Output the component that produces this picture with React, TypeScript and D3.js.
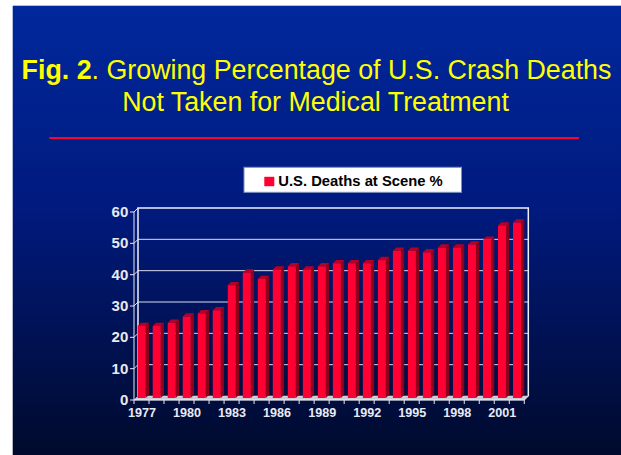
import React from "react";
import * as d3 from "d3";

const years: number[] = d3.range(1977, 2003);
const values: number[] = [23, 23, 24, 26, 27, 28, 36, 40, 38, 41, 42, 41, 42, 43, 43, 43, 44, 47, 47, 46.5, 48, 48, 49, 50.5, 55, 56];
const yTicks: number[] = [0, 10, 20, 30, 40, 50, 60];
const xLabelYears: number[] = [1977, 1980, 1983, 1986, 1989, 1992, 1995, 1998, 2001];
const titleBold = "Fig. 2";
const titleRest1 = ". Growing Percentage of U.S. Crash Deaths";
const titleLine2 = "Not Taken for Medical Treatment";
const legendLabel = "U.S. Deaths at Scene %";

export default function App() {
  const W = 621, H = 455;
  const DX = 4, DY = 4; // wall depth
  const x = d3.scaleBand<number>().domain(years).range([134, 524.3]).paddingInner(0).paddingOuter(0);
  const y = d3.scaleLinear().domain([0, 60]).range([400, 212]);
  const bw = x.bandwidth();
  const font = "'Liberation Sans', Arial, Helvetica, sans-serif";
  const x0 = 134, x1 = 524.3;
  const y0 = y(0), yTop = y(60);
  const barW = 8, bd = 3.3, bOff = 2;

  return (
    <svg width={W} height={H} style={{ position: "absolute", left: 0, top: 0 }} fontFamily={font}>
      <defs>
        <linearGradient id="bg" x1="0" y1="0" x2="0" y2="1">
          <stop offset="0" stopColor="#00289C" />
          <stop offset="0.45" stopColor="#001A7E" />
          <stop offset="1" stopColor="#000A2C" />
        </linearGradient>
      </defs>
      <rect x={0} y={0} width={W} height={H} fill="#ffffff" />
      <rect x={12.7} y={5.7} width={W - 12.7} height={H - 5.7} fill="url(#bg)" />

      {/* Title */}
      <text x={316.5} y={79} textAnchor="middle" fill="#FFFF00" fontSize={26.8}>
        <tspan fontWeight="bold">{titleBold}</tspan>
        <tspan>{titleRest1}</tspan>
      </text>
      <text x={315.5} y={110.7} textAnchor="middle" fill="#FFFF00" fontSize={26.8}>
        {titleLine2}
      </text>
      <line x1={49.3} x2={579} y1={138} y2={138} stroke="#FF0033" strokeWidth={2} />

      {/* Legend */}
      <rect x={244} y={167.3} width={217.5} height={25} fill="#ffffff" stroke="#8090C0" strokeWidth={1} />
      <rect x={264.3} y={176.8} width={10} height={9.4} fill="#FF0033" />
      <text x={278.3} y={186.2} fontSize={14.8} fontWeight="bold" fill="#000000">{legendLabel}</text>

      {/* Back wall gridlines */}
      {yTicks.filter(t => t > 0 && t < 60).map(t => (
        <g key={"g" + t}>
          <line x1={x0 + DX} x2={x1 + DX} y1={y(t) - DY} y2={y(t) - DY} stroke="#D8DCEC" strokeWidth={1} />
          <line x1={x0} x2={x0 + DX} y1={y(t)} y2={y(t) - DY} stroke="#D8DCEC" strokeWidth={1} />
        </g>
      ))}
      {/* Wall border */}
      <polyline
        points={`${x0 + DX},${y0 - DY} ${x0 + DX},${yTop - DY} ${x1 + DX},${yTop - DY} ${x1 + DX},${y0 - DY}`}
        fill="none" stroke="#F0F0F8" strokeWidth={1.5}
      />
      <line x1={x0} x2={x0 + DX} y1={yTop} y2={yTop - DY} stroke="#F0F0F8" strokeWidth={1} />
      {/* Floor */}
      <polygon
        points={`${x0},${y0} ${x1},${y0} ${x1 + DX},${y0 - DY} ${x0 + DX},${y0 - DY}`}
        fill="#C8CAD4" stroke="#E8E8F0" strokeWidth={0.5}
      />

      {/* Bars */}
      {years.map((yr, i) => {
        const v = values[i];
        const bx = (x(yr) as number) + 3.7;
        const base = y(0) - bOff;
        const top = y(v) - bOff;
        return (
          <g key={yr}>
            <polygon
              points={`${bx + barW},${top} ${bx + barW + bd},${top - bd} ${bx + barW + bd},${base - bd} ${bx + barW},${base}`}
              fill="#8E001C"
            />
            <polygon
              points={`${bx},${top} ${bx + bd},${top - bd} ${bx + barW + bd},${top - bd} ${bx + barW},${top}`}
              fill="#B80026"
            />
            <rect x={bx} y={top} width={barW} height={base - top} fill="#FF0033" />
          </g>
        );
      })}

      {/* Axes */}
      <line x1={x0} x2={x0} y1={yTop} y2={y0} stroke="#E8E8F0" strokeWidth={1} />
      <line x1={x0} x2={x1} y1={y0} y2={y0} stroke="#E8E8F0" strokeWidth={1} />
      <line x1={x1} x2={x1 + DX} y1={y0} y2={y0 - DY} stroke="#E8E8F0" strokeWidth={1} />
      {yTicks.map(t => (
        <g key={"yt" + t}>
          <line x1={x0 - 4} x2={x0} y1={y(t)} y2={y(t)} stroke="#E8E8F0" strokeWidth={1} />
          <text x={128.3} y={y(t) + 5} textAnchor="end" fontSize={15} fontWeight="bold" fill="#E8EAF2">{t}</text>
        </g>
      ))}
      {years.map(yr => (
        <line key={"xt" + yr} x1={x(yr) as number} x2={x(yr) as number} y1={y0} y2={y0 + 4} stroke="#E8E8F0" strokeWidth={1} />
      ))}
      <line x1={x1} x2={x1} y1={y0} y2={y0 + 4} stroke="#E8E8F0" strokeWidth={1} />
      {xLabelYears.map(yr => (
        <text key={"xl" + yr} x={(x(yr) as number) + bw / 2 + 0.5} y={417.3} textAnchor="middle" fontSize={12.6} fontWeight="bold" fill="#E8EAF2">{yr}</text>
      ))}
    </svg>
  );
}
